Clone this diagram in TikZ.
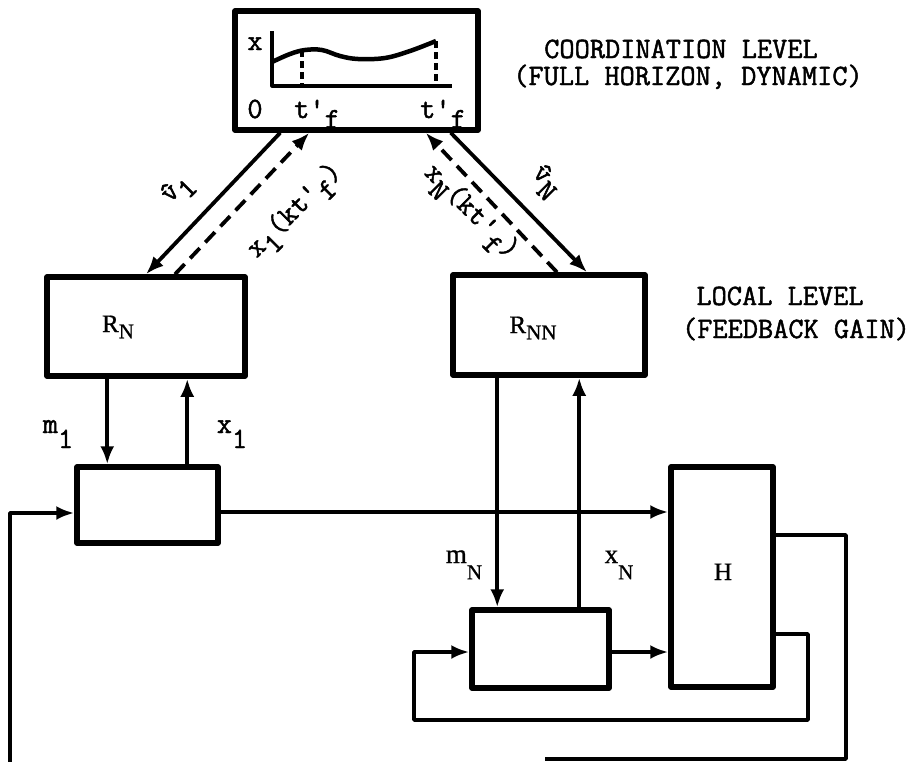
\documentclass[tikz,border=0pt]{standalone}
\usepackage{fontspec}
\newfontfamily\libserif{Liberation Serif}[FakeBold=0.8]
\newfontfamily\monob{Latin Modern Mono}[FakeBold=1.6]
\usetikzlibrary{arrows.meta}
\newcommand\lo[2][0.8ex]{\raisebox{-#1}{#2}}
\newcommand\slo[2][0.55ex]{\raisebox{-#1}{\fontsize{21}{24}\selectfont #2}}
\begin{document}
\begin{tikzpicture}[x=1pt,y=-1pt,line join=round,
  box/.style={draw,line width=5.5pt,inner sep=0pt},
  conn/.style={line width=3.8pt},
  arr/.style={conn,-{Latex[length=18pt,width=14pt]}},
  dashconn/.style={conn,dash pattern=on 14pt off 8pt},
  darr/.style={dashconn,-{Latex[length=18pt,width=14pt]}},
  tt/.style={font=\fontsize{29.5}{34}\selectfont\monob,inner sep=0pt},
  sr/.style={font=\fontsize{25}{30}\selectfont\libserif,inner sep=0pt}]
\useasboundingbox[fill=white] (0,0) rectangle (916,761);

% boxes
\node[box,minimum width=243pt,minimum height=119pt] (coord) at (356.5,70.5) {};
\node[box,minimum width=198pt,minimum height=99pt] (RN) at (146,326.5) {};
\node[box,minimum width=192pt,minimum height=100pt] (RNN) at (549,325) {};
\node[box,minimum width=141pt,minimum height=76pt] (b1) at (147.5,505) {};
\node[box,minimum width=137pt,minimum height=78pt] (b2) at (540.5,649) {};
\node[box,minimum width=102pt,minimum height=220pt] (H) at (722,577) {};

% plot inside coordination box
\draw[line width=3.2pt] (272,31) -- (272,86) -- (452,86);
\draw[line width=4.5pt] plot[smooth,tension=0.6] coordinates {(272,62) (290,54) (305,50) (322,50) (340,56) (358,59) (385,58) (410,51) (436,41)};
\draw[line width=3.2pt,dash pattern=on 7pt off 4pt] (302,50) -- (302,86);
\draw[line width=3.2pt,dash pattern=on 7pt off 4pt] (436,41) -- (436,86);
\node[tt,anchor=base] (lx) at (255,50) {x};
\node[tt,anchor=base] (l0) at (255,118) {0};
\node[tt,anchor=base] (lt1) at (317,118) {t'\lo{f}};
\node[tt,anchor=base] (lt2) at (443,118) {t'\lo{f}};

% level texts
\node[tt,anchor=base] (c1) at (681,58) {COORDINATION LEVEL};
\node[tt,anchor=base] (c2) at (688,85) {(FULL HORIZON, DYNAMIC)};
\node[tt,anchor=base] (c3) at (780,305) {LOCAL LEVEL};
\node[tt,anchor=base] (c4) at (796,338) {(FEEDBACK GAIN)};

% box labels
\node[sr,anchor=base] (lRN) at (118,332) {R\slo{N}};
\node[sr,anchor=base] (lRNN) at (533,333) {R\slo{NN}};
\node[sr,anchor=base] (lH) at (723,580) {H};
\node[sr,anchor=base,font=\fontsize{27}{30}\selectfont\libserif] (lmN) at (464,563) {m\slo[0.6em]{N}};
\node[sr,anchor=base,font=\fontsize{27}{30}\selectfont\libserif] (lxN) at (619,563) {x\slo[0.6em]{N}};
\node[tt,anchor=base] (lm1) at (58,433) {m\lo[15pt]{1}};
\node[tt,anchor=base] (lx1) at (232,433) {x\lo[15pt]{1}};

% diagonal connectors
\draw[arr] ([xshift=48pt]coord.south west) -- (RN.north);
\draw[darr] ([xshift=29pt]RN.north) -- ([xshift=77pt]coord.south west);
\draw[darr] ([xshift=8pt]RNN.north) -- ([xshift=-55pt]coord.south east);
\draw[arr] ([xshift=-30pt]coord.south east) -- ([xshift=38pt]RNN.north);

\node[tt,rotate=45] (dv1) at (178,190) {\^{v}\lo{1}};
\node[tt,rotate=45] (dx1) at (296,212) {x\lo{1}(kt'\lo{f})};
\node[tt,rotate=-45] (dxN) at (470,213) {x\lo{N}(kt'\lo{f})};
\node[tt,rotate=-45] (dvN) at (545,182) {\^{v}\lo{N}};

% vertical connectors
\coordinate (m1t) at ([xshift=63pt]RN.south west);
\coordinate (x1t) at ([xshift=143pt]RN.south west);
\coordinate (mNt) at ([xshift=47pt]RNN.south west);
\coordinate (xNt) at ([xshift=129pt]RNN.south west);
\draw[arr] (m1t) -- (m1t |- b1.north);
\draw[arr] (x1t |- b1.north) -- (x1t);
\draw[arr] (mNt) -- (mNt |- b2.north);
\draw[arr] (xNt |- b2.north) -- (xNt);

% horizontal connectors
\coordinate (b1o) at ([yshift=-7pt]b1.east);
\coordinate (b1i) at ([yshift=-8pt]b1.west);
\coordinate (b2o) at ([yshift=-3pt]b2.east);
\coordinate (b2i) at ([yshift=-3pt]b2.west);
\coordinate (Ho1) at ([yshift=42pt]H.east);
\coordinate (Ho2) at ([yshift=-57pt]H.east);
\draw[arr] (b1o) -- (b1o -| H.west);
\draw[arr] (b2o) -- (b2o -| H.west);

% feedback loops
\coordinate (bl) at (10,766);
\coordinate (br) at (846,759);
\coordinate (bm) at (545,759);
\coordinate (lr) at (808,720);
\coordinate (ll) at (414,720);
\draw[arr] (bl) |- (b1i);
\draw[conn] (Ho1) -| (br) -- (bm);
\draw[arr] (Ho2) -| (lr) -- (ll) |- (b2i);
\end{tikzpicture}
\end{document}
